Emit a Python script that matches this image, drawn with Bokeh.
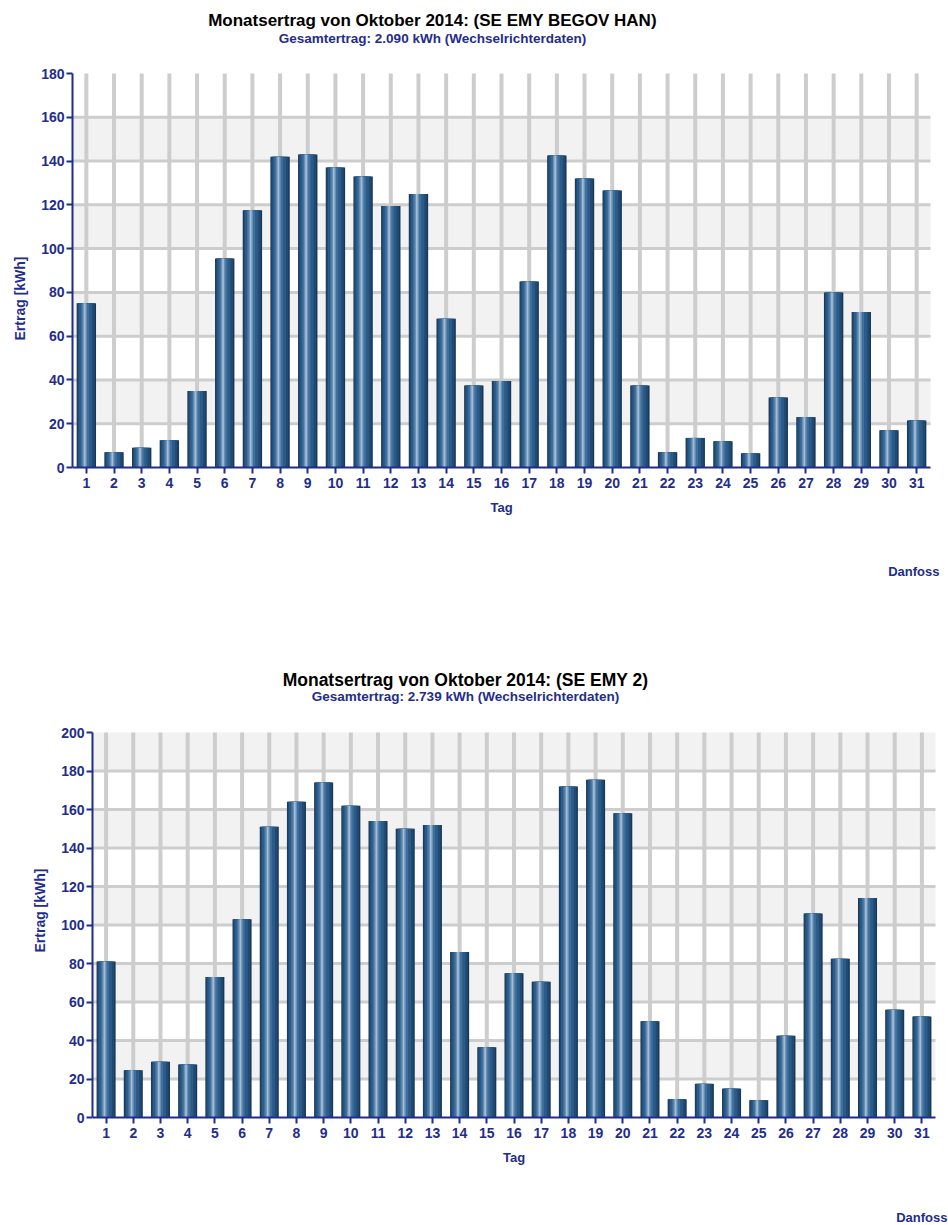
from bokeh.plotting import figure
from bokeh.models import Range1d, FixedTicker, Label
from bokeh.transform import dodge
from bokeh.embed import file_html
from bokeh.resources import INLINE

# ---------------- data ----------------
days = list(range(1, 32))

ertrag_begov = [75, 7, 9, 12.5, 35, 95.5, 117.5, 142, 143, 137, 133, 119.5, 125, 68,
                37.5, 39.5, 85, 142.5, 132, 126.5, 37.5, 7, 13.5, 12, 6.5, 32, 23, 80,
                71, 17, 21.5]
ertrag_emy2 = [81, 24.5, 29, 27.5, 73, 103, 151, 164, 174, 162, 154, 150, 152, 86,
               36.5, 75, 70.5, 172, 175.5, 158, 50, 9.5, 17.5, 15, 9, 42.5, 106, 82.5,
               114, 56, 52.5]

yticks_top = [0, 20, 40, 60, 80, 100, 120, 140, 160, 180]
yticks_bottom = [0, 20, 40, 60, 80, 100, 120, 140, 160, 180, 200]

title_top = "Monatsertrag von Oktober 2014: (SE EMY BEGOV HAN)"
sub_top = "Gesamtertrag: 2.090 kWh (Wechselrichterdaten)"
title_bottom = "Monatsertrag von Oktober 2014: (SE EMY 2)"
sub_bottom = "Gesamtertrag: 2.739 kWh (Wechselrichterdaten)"
brand = "Danfoss"
x_title = "Tag"
y_title = "Ertrag [kWh]"

BLUE = "#1f2d8c"
FONT = "Liberation Sans"
GRID = "#cdcdcd"
BAND = "#f2f2f2"

# bar "cylinder" shading layers: (width, offset, color)
layers = [
    (0.70, 0.0, "#1a3756"),
    (0.62, -0.01, "#214a72"),
    (0.48, -0.03, "#2b5b88"),
    (0.30, -0.05, "#3f6f9c"),
    (0.16, -0.06, "#6a90b5"),
    (0.06, -0.06, "#a3bdd5"),
]


def make_chart(values, yticks, title, sub, W, H, left, right_px, y0_px, ytop_px,
               title_pos, sub_pos, brand_pos, title_size, ylab_standoff):
    # layout geometry (pixels -> data ranges)
    px_day = (right_px - left) / 31.0
    ymax = yticks[-1]
    px_unit = (y0_px - ytop_px) / ymax
    x_end = 0.5 + (W - left) / px_day
    y_end = y0_px / px_unit
    y_start = -(H - y0_px) / px_unit

    p = figure(width=W, height=H, output_backend="svg", toolbar_location=None,
               x_range=Range1d(0.5, x_end), y_range=Range1d(y_start, y_end),
               min_border_left=left, min_border_right=0, min_border_top=0,
               min_border_bottom=0)
    p.outline_line_color = None
    p.background_fill_color = "white"
    p.border_fill_color = "white"
    p.xgrid.visible = False
    p.ygrid.visible = False

    # alternating bands between y ticks (20-40, 60-80, ...)
    b_bot = yticks[1:-1:2]
    b_top = yticks[2::2]
    n = min(len(b_bot), len(b_top))
    p.quad(left=[0.5] * n, right=[31.5] * n, bottom=b_bot[:n], top=b_top[:n],
           fill_color=BAND, line_color=None)
    # horizontal grid lines
    hl = yticks[1:-1]
    p.segment(x0=[0.5] * len(hl), x1=[31.5] * len(hl), y0=hl, y1=hl,
              line_color=GRID, line_width=3)
    # vertical grid lines at every day
    p.segment(x0=days, x1=days, y0=[0] * len(days), y1=[ymax] * len(days),
              line_color=GRID, line_width=4)

    src = {"x": days, "top": values}
    for w, off, c in layers:
        p.vbar(x=dodge("x", off), top="top", bottom=0, width=w, source=src,
               fill_color=c, line_color=None)

    xa = p.xaxis[0]
    ya = p.yaxis[0]
    xa.fixed_location = 0
    xa.bounds = (0.5, 31.5)
    ya.bounds = (0, ymax)
    xa.ticker = FixedTicker(ticks=days)
    ya.ticker = FixedTicker(ticks=yticks)
    xa.axis_label = x_title
    ya.axis_label = y_title
    for ax in (xa, ya):
        ax.axis_line_color = BLUE
        ax.axis_line_width = 2
        ax.major_tick_line_color = BLUE
        ax.major_tick_line_width = 2
        ax.minor_tick_line_color = None
        ax.major_tick_in = 0
        ax.major_tick_out = 6
        ax.major_label_text_color = BLUE
        ax.major_label_text_font = FONT
        ax.major_label_text_font_style = "bold"
        ax.major_label_text_font_size = "14px"
        ax.axis_label_text_color = BLUE
        ax.axis_label_text_font = FONT
        ax.axis_label_text_font_style = "bold"
    xa.major_label_standoff = 4
    ya.major_label_standoff = 2
    xa.axis_label_text_font_size = "13px"
    ya.axis_label_text_font_size = "14px"
    xa.axis_label_standoff = 9
    ya.axis_label_standoff = ylab_standoff

    # texts: positions in pixels relative to the plot frame (x from left, y from bottom)
    def lbl(txt, pos, size, color, align, baseline="middle"):
        p.add_layout(Label(x=pos[0] - left, y=H - pos[1], x_units="screen",
                           y_units="screen", text=txt, text_font=FONT,
                           text_font_style="bold", text_font_size=size,
                           text_color=color, text_align=align,
                           text_baseline=baseline))

    lbl(title, title_pos, title_size, "black", "center")
    lbl(sub, sub_pos, "13.5px", BLUE, "center")
    lbl(brand, brand_pos, "13px", BLUE, "right", "bottom")
    return p


p1 = make_chart(ertrag_begov, yticks_top, title_top, sub_top,
                W=948, H=596, left=72, right_px=930, y0_px=467, ytop_px=73,
                title_pos=(432, 20), sub_pos=(432, 38), brand_pos=(939, 578),
                title_size="17px", ylab_standoff=10)
p2 = make_chart(ertrag_emy2, yticks_bottom, title_bottom, sub_bottom,
                W=948, H=628, left=92, right_px=935, y0_px=1117 - 596,
                ytop_px=732 - 596,
                title_pos=(465, 679 - 596), sub_pos=(465, 696 - 596),
                brand_pos=(947, 628), title_size="17.5px", ylab_standoff=10)

open("out.html", "w").write(file_html([p1, p2], INLINE))
